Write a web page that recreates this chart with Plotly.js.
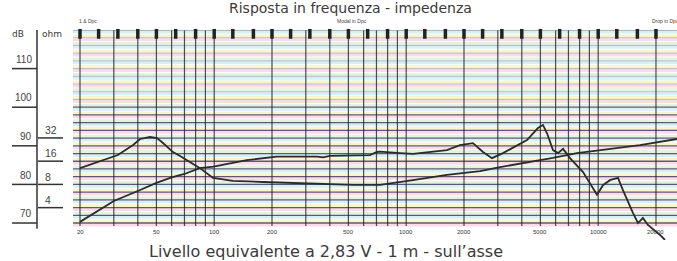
<!DOCTYPE html>
<html><head><meta charset="utf-8">
<script src="https://cdn.plot.ly/plotly-3.0.1.min.js"></script>
<style>html,body{margin:0;padding:0;background:#fff}#chart{width:677px;height:261px}</style>
</head><body><div id="chart"></div>
<script>
// ---- data ----
const splFreq = [20, 30, 40, 50, 60, 70, 84, 99, 148, 212, 343, 369, 401, 528, 648, 704, 730, 928, 1084, 1630, 1906, 2228, 2512, 2798, 3192, 4258, 4856, 5156, 5408, 5817, 6180, 6560, 7130, 8338, 9860, 10594, 11517, 12680, 13460, 15170, 16110, 17100, 18160, 21000, 22280];
const splDb   = [70.3, 75.7, 78.3, 80.4, 81.8, 82.7, 84.2, 84.6, 86.3, 87.2, 87.2, 87.0, 87.4, 87.6, 87.6, 88.4, 88.5, 88.1, 87.9, 88.9, 90.2, 90.7, 88.4, 86.8, 88.1, 91.5, 94.6, 95.4, 93.3, 88.9, 88.1, 89.2, 86.8, 83.2, 77.3, 79.8, 81.1, 81.7, 78.5, 72.6, 70.0, 71.3, 69.5, 66.9, 65.6];
const impFreq = [20, 25.4, 31.5, 37.8, 41.1, 46.3, 50.4, 54.1, 61, 66.4, 84.3, 98.6, 125, 180, 280, 528, 730, 854, 1084, 1630, 2424, 3081, 4412, 5817, 7754, 11517, 16510, 25700];
const impOhm  = [13.0, 16.1, 19.2, 25.9, 31.0, 32.9, 31.9, 27.5, 21.0, 18.7, 13.0, 9.7, 8.9, 8.6, 8.3, 7.9, 7.9, 8.3, 9.1, 10.6, 11.9, 13.4, 15.6, 17.6, 20.4, 23.0, 25.9, 31.0];

const xTickFreq = [20, 50, 100, 200, 500, 1000, 2000, 5000, 10000, 20000];
const xTickText = ['20', '50', '100', '200', '500', '1000', '2000', '5000', '10000', '20000'];
const gridFreq = [20,30,40,50,60,70,80,90,100,200,300,400,500,600,700,800,900,1000,2000,3000,4000,5000,6000,7000,8000,9000,10000,20000];
const thirdOctFreq = [20,25,31.5,40,50,63,80,100,125,160,200,250,315,400,500,630,800,1000,1250,1600,2000,2500,3150,4000,5000,6300,8000,10000,12500,16000,20000];
const dbTicks = [70, 80, 90, 100, 110];
const dbTickText = ['70', '80', '90', '100', '110'];
const ohmTicks = [4, 8, 16, 32];
const ohmTickText = ['4', '8', '16', '32'];
const darkGridDb = [70,72,74,76,78,80,82,84,86,88,90,92,94,96,98,100];
const lightGridDb = [102,104,106,108,110,112,114,116,118];

// ---- geometry ----
const W = 677, H = 261, L = 73, T = 30, B = 21;
const PW = W - L, PH = H - T - B;
const xRange = [1.2645, 4.4105];
const dbRange = [65.6, 120];
const gridBottom = 69.2;
const xMin = Math.pow(10, xRange[0]), xMax = Math.pow(10, xRange[1]);
const ohmToDb = z => 80 + 20 * Math.log10(z / 8);
const px = p => (p - L) / PW;
const py = p => (H - B - p) / PH;

function hLines(vals) {
  const x = [], y = [];
  vals.forEach(v => { x.push(xMin, xMax, null); y.push(v, v, null); });
  return {x, y};
}
function vLines(vals) {
  const x = [], y = [];
  vals.forEach(v => { x.push(v, v, null); y.push(gridBottom, dbRange[1], null); });
  return {x, y};
}

const traces = [];
// pastel stripes
const pastel = ['rgba(246,196,218,0.6)', 'rgba(240,238,170,0.6)', 'rgba(186,230,242,0.6)', 'rgba(206,236,200,0.6)'];
pastel.forEach((c, k) => {
  const vals = [];
  for (let d = 69.5 + k; d < 120; d += 4) vals.push(d);
  const h = hLines(vals);
  traces.push({x: h.x, y: h.y, mode: 'lines', line: {color: c, width: 3}, hoverinfo: 'skip', showlegend: false});
});
// light grid above 100 dB
let h = hLines(lightGridDb);
traces.push({x: h.x, y: h.y, mode: 'lines', line: {color: 'rgba(110,100,125,0.45)', width: 1}, hoverinfo: 'skip', showlegend: false});
// dark grid 70..100
h = hLines(darkGridDb);
traces.push({x: h.x, y: h.y, mode: 'lines', line: {color: 'rgba(60,45,80,0.8)', width: 1.3}, hoverinfo: 'skip', showlegend: false});
// vertical grid
const v = vLines(gridFreq);
traces.push({x: v.x, y: v.y, mode: 'lines', line: {color: 'rgba(35,35,45,0.8)', width: 1.2}, hoverinfo: 'skip', showlegend: false});
// top border
h = hLines([dbRange[1] - 0.1]);
traces.push({x: h.x, y: h.y, mode: 'lines', line: {color: 'rgba(120,120,130,0.6)', width: 1}, hoverinfo: 'skip', showlegend: false});
// third-octave markers at the top
traces.push({x: thirdOctFreq, y: thirdOctFreq.map(() => 119.0), mode: 'markers', marker: {symbol: 'line-ns-open', size: 7, color: '#222', line: {color: '#222', width: 3.5}}, hoverinfo: 'skip', showlegend: false, cliponaxis: false});
// curves
traces.push({x: impFreq, y: impOhm, yaxis: 'y2', mode: 'lines', line: {color: '#2b2b2b', width: 1.8}, name: 'Impedenza', showlegend: false});
traces.push({x: splFreq, y: splDb, mode: 'lines', line: {color: '#2b2b2b', width: 1.8}, name: 'Risposta', showlegend: false});

const shapes = [];
// left vertical axis line
shapes.push({type: 'line', xref: 'paper', yref: 'y', x0: px(37), x1: px(37), y0: 68.5, y1: dbRange[1], line: {color: '#333', width: 1.5}});
dbTicks.forEach(d => shapes.push({type: 'line', xref: 'paper', yref: 'y', x0: px(12), x1: px(37), y0: d, y1: d, line: {color: '#333', width: 1.5}}));
ohmTicks.forEach(z => shapes.push({type: 'line', xref: 'paper', yref: 'y', x0: px(38), x1: px(63), y0: ohmToDb(z), y1: ohmToDb(z), line: {color: '#333', width: 1.5}}));

const annotations = [];
const lab = (text, x, y, size, opts) => Object.assign({text, x, y, xref: 'paper', yref: 'paper', showarrow: false, font: {family: 'DejaVu Sans', size, color: '#3a3a3a'}, xanchor: 'center', yanchor: 'middle'}, opts || {});
annotations.push(lab('Risposta in frequenza - impedenza', px(350), py(8.5), 14, {borderpad: 0}));
annotations.push(lab('Livello equivalente a 2,83 V - 1 m - sull\u2019asse', px(326), py(251), 16));
annotations.push(lab('1 & Dpc', px(88), py(21.5), 5, {borderpad: 0, font: {family: 'Liberation Sans', size: 5, color: '#444'}}));
annotations.push(lab('Modal in Dpc', px(352), py(21.5), 5, {borderpad: 0, font: {family: 'Liberation Sans', size: 5, color: '#444'}}));
annotations.push(lab('Drop in Dpc', px(665), py(21.5), 5, {borderpad: 0, font: {family: 'Liberation Sans', size: 5, color: '#444'}}));
annotations.push(lab('dB', px(18), py(34), 9));
annotations.push(lab('ohm', px(40), py(34), 9, {xanchor: 'left'}));
dbTicks.forEach((d, i) => annotations.push({text: dbTickText[i], xref: 'paper', yref: 'y', x: px(34), y: d + 2.4, xanchor: 'right', yanchor: 'middle', showarrow: false, font: {family: 'Liberation Sans Narrow, Liberation Sans', size: 10, color: '#444'}}));
ohmTicks.forEach((z, i) => annotations.push({text: ohmTickText[i], xref: 'paper', yref: 'y', x: px(43), y: ohmToDb(z) + 2.0, xanchor: 'left', yanchor: 'middle', showarrow: false, font: {family: 'Liberation Sans Narrow, Liberation Sans', size: 10.5, color: '#444'}}));
xTickFreq.forEach((f, i) => annotations.push({text: xTickText[i], xref: 'x', yref: 'paper', x: Math.log10(f), y: py(232), xanchor: 'center', yanchor: 'middle', showarrow: false, font: {family: 'Liberation Sans', size: 6, color: '#333'}}));

const layout = {
  width: W, height: H,
  margin: {l: L, r: 0, t: T, b: B, pad: 0},
  paper_bgcolor: '#fff', plot_bgcolor: '#fff',
  showlegend: false,
  xaxis: {type: 'log', range: xRange, showgrid: false, zeroline: false, showline: false, showticklabels: false, ticks: '', fixedrange: true},
  yaxis: {range: dbRange, showgrid: false, zeroline: false, showline: false, showticklabels: false, ticks: '', fixedrange: true},
  yaxis2: {type: 'log', overlaying: 'y', range: [Math.log10(8) + (dbRange[0] - 80) / 20, Math.log10(8) + (dbRange[1] - 80) / 20], visible: false, fixedrange: true},
  shapes, annotations
};
Plotly.newPlot('chart', traces, layout, {staticPlot: true, displayModeBar: false});
</script></body></html>
